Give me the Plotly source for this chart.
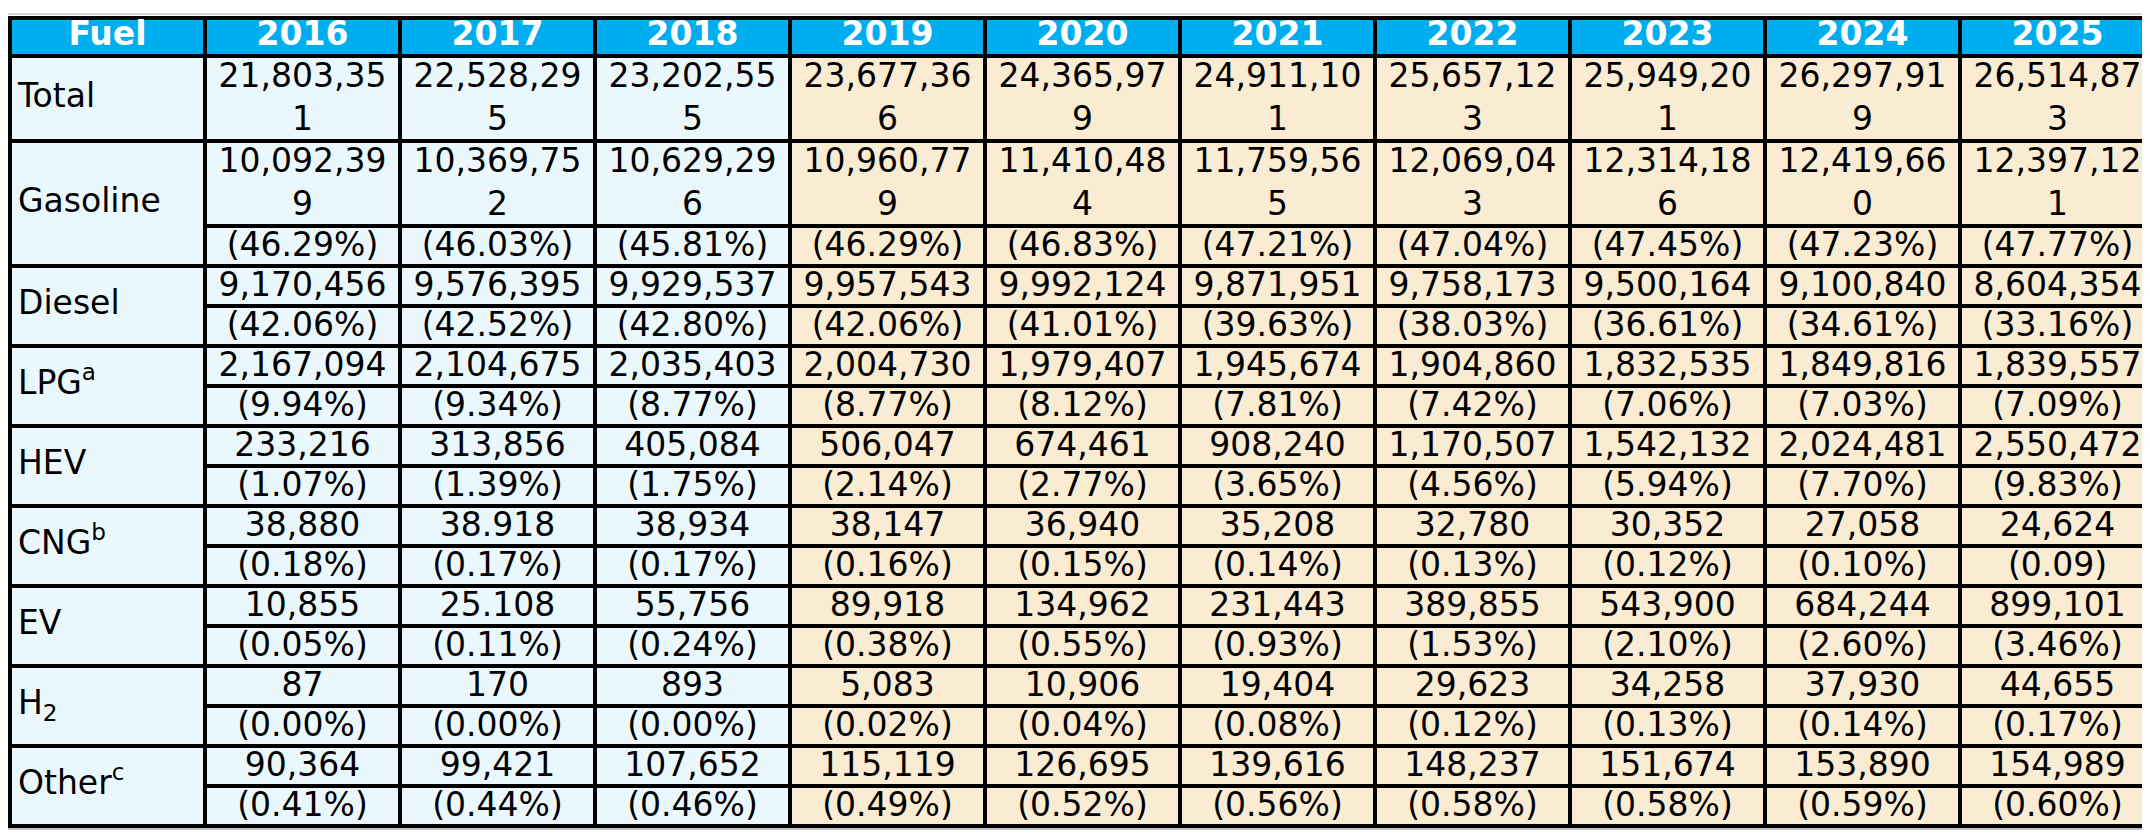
import plotly.graph_objects as go

# ---------------- data ----------------
years = ["2016", "2017", "2018", "2019", "2020", "2021", "2022", "2023", "2024", "2025"]
fuels = ["Total", "Gasoline", "Diesel", "LPG<sup>a</sup>", "HEV", "CNG<sup>b</sup>",
         "EV", "H<sub>2</sub>", "Other<sup>c</sup>"]

total_val = ["21,803,351", "22,528,295", "23,202,555", "23,677,366", "24,365,979",
             "24,911,101", "25,657,123", "25,949,201", "26,297,919", "26,514,873"]
gasoline_val = ["10,092,399", "10,369,752", "10,629,296", "10,960,779", "11,410,484",
                "11,759,565", "12,069,043", "12,314,186", "12,419,660", "12,397,121"]
gasoline_pct = ["(46.29%)", "(46.03%)", "(45.81%)", "(46.29%)", "(46.83%)",
                "(47.21%)", "(47.04%)", "(47.45%)", "(47.23%)", "(47.77%)"]
diesel_val = ["9,170,456", "9,576,395", "9,929,537", "9,957,543", "9,992,124",
              "9,871,951", "9,758,173", "9,500,164", "9,100,840", "8,604,354"]
diesel_pct = ["(42.06%)", "(42.52%)", "(42.80%)", "(42.06%)", "(41.01%)",
              "(39.63%)", "(38.03%)", "(36.61%)", "(34.61%)", "(33.16%)"]
lpg_val = ["2,167,094", "2,104,675", "2,035,403", "2,004,730", "1,979,407",
           "1,945,674", "1,904,860", "1,832,535", "1,849,816", "1,839,557"]
lpg_pct = ["(9.94%)", "(9.34%)", "(8.77%)", "(8.77%)", "(8.12%)",
           "(7.81%)", "(7.42%)", "(7.06%)", "(7.03%)", "(7.09%)"]
hev_val = ["233,216", "313,856", "405,084", "506,047", "674,461",
           "908,240", "1,170,507", "1,542,132", "2,024,481", "2,550,472"]
hev_pct = ["(1.07%)", "(1.39%)", "(1.75%)", "(2.14%)", "(2.77%)",
           "(3.65%)", "(4.56%)", "(5.94%)", "(7.70%)", "(9.83%)"]
cng_val = ["38,880", "38.918", "38,934", "38,147", "36,940",
           "35,208", "32,780", "30,352", "27,058", "24,624"]
cng_pct = ["(0.18%)", "(0.17%)", "(0.17%)", "(0.16%)", "(0.15%)",
           "(0.14%)", "(0.13%)", "(0.12%)", "(0.10%)", "(0.09)"]
ev_val = ["10,855", "25.108", "55,756", "89,918", "134,962",
          "231,443", "389,855", "543,900", "684,244", "899,101"]
ev_pct = ["(0.05%)", "(0.11%)", "(0.24%)", "(0.38%)", "(0.55%)",
          "(0.93%)", "(1.53%)", "(2.10%)", "(2.60%)", "(3.46%)"]
h2_val = ["87", "170", "893", "5,083", "10,906",
          "19,404", "29,623", "34,258", "37,930", "44,655"]
h2_pct = ["(0.00%)", "(0.00%)", "(0.00%)", "(0.02%)", "(0.04%)",
          "(0.08%)", "(0.12%)", "(0.13%)", "(0.14%)", "(0.17%)"]
other_val = ["90,364", "99,421", "107,652", "115,119", "126,695",
             "139,616", "148,237", "151,674", "153,890", "154,989"]
other_pct = ["(0.41%)", "(0.44%)", "(0.46%)", "(0.49%)", "(0.52%)",
             "(0.56%)", "(0.58%)", "(0.58%)", "(0.59%)", "(0.60%)"]

values = [total_val, gasoline_val, diesel_val, lpg_val, hev_val,
          cng_val, ev_val, h2_val, other_val]
shares = [None, gasoline_pct, diesel_pct, lpg_pct, hev_pct,
          cng_pct, ev_pct, h2_pct, other_pct]

# ---------------- layout / style ----------------
W, H = 2150, 835
X0, COLW = 2, 195
HDR_TOP, HDR_H = 10, 38
LINE_H, SUB_H = 42.5, 40
MAX_CHARS = 9
FONT = "Verdana, DejaVu Sans, sans-serif"
FS = 33
HDR_BG = "#00AEEF"
HIST_BG = "#EAF8FE"
PROJ_BG = "#FAEBD3"
BORDER = "#000000"
BW = 4


def wrap(s):
    if len(s) > MAX_CHARS:
        return s[:MAX_CHARS] + "<br>" + s[MAX_CHARS:]
    return s


ncols = len(years) + 1
xe = [X0 + COLW * i for i in range(ncols + 1)]
xc = [(xe[i] + xe[i + 1]) / 2 for i in range(ncols)]

col_bg = [HIST_BG] + [HIST_BG if int(y) < 2019 else PROJ_BG for y in years]

shapes = []
# header
hdr_bot = HDR_TOP + HDR_H
shapes.append(dict(type="rect", xref="x", yref="y", x0=xe[0], x1=xe[-1],
                   y0=HDR_TOP, y1=hdr_bot, fillcolor=HDR_BG, line_width=0, layer="below"))

tx_h, ty_h, tt_h = [], [], []
tt_h.append("<b>Fuel</b>"); tx_h.append(xc[0]); ty_h.append((HDR_TOP + hdr_bot) / 2)
for j, y in enumerate(years):
    tt_h.append("<b>%s</b>" % y); tx_h.append(xc[j + 1]); ty_h.append((HDR_TOP + hdr_bot) / 2)

lab_x, lab_y, lab_t = [], [], []
v_x, v_y, v_t = [], [], []
inner_lines = []
block_lines = [HDR_TOP, hdr_bot]
top = hdr_bot
for i, f in enumerate(fuels):
    vals = values[i]
    nlines = 2 if any(len(v) > MAX_CHARS for v in vals) else 1
    vh = LINE_H * nlines if nlines > 1 else SUB_H
    ph = SUB_H if shares[i] is not None else 0
    bottom = top + vh + ph
    # backgrounds
    for c in range(ncols):
        shapes.append(dict(type="rect", xref="x", yref="y", x0=xe[c], x1=xe[c + 1],
                           y0=top, y1=bottom, fillcolor=col_bg[c], line_width=0, layer="below"))
    lab_x.append(xe[0] + 8); lab_y.append((top + bottom) / 2); lab_t.append(f)
    for j in range(len(years)):
        v_x.append(xc[j + 1]); v_y.append(top + vh / 2 + 1.5); v_t.append(wrap(vals[j]))
        if shares[i] is not None:
            v_x.append(xc[j + 1]); v_y.append(top + vh + ph / 2 + 1.5); v_t.append(shares[i][j])
    if shares[i] is not None:
        inner_lines.append(top + vh)
    block_lines.append(bottom)
    top = bottom

# thin grey frame lines
shapes.append(dict(type="line", xref="x", yref="y", x0=0, x1=W, y0=HDR_TOP - 4, y1=HDR_TOP - 4,
                   line=dict(color="#C8C8C8", width=1.5), layer="below"))
shapes.append(dict(type="line", xref="x", yref="y", x0=0, x1=xe[-1], y0=top + 3, y1=top + 3,
                   line=dict(color="#B0B0B0", width=1.5), layer="below"))

# horizontal borders
for yb in block_lines:
    shapes.append(dict(type="line", xref="x", yref="y", x0=xe[0] - BW / 2, x1=xe[-1] + BW / 2,
                       y0=yb, y1=yb, line=dict(color=BORDER, width=BW), layer="below"))
for yb in inner_lines:
    shapes.append(dict(type="line", xref="x", yref="y", x0=xe[1], x1=xe[-1],
                       y0=yb, y1=yb, line=dict(color=BORDER, width=BW), layer="below"))
# vertical borders
for xb in xe:
    shapes.append(dict(type="line", xref="x", yref="y", x0=xb, x1=xb,
                       y0=HDR_TOP, y1=top, line=dict(color=BORDER, width=BW), layer="below"))

fig = go.Figure()
fig.add_trace(go.Scatter(x=tx_h, y=ty_h, text=tt_h, mode="text", textposition="middle center",
                         textfont=dict(family=FONT, size=FS, color="white"),
                         hoverinfo="skip", cliponaxis=False, showlegend=False))
fig.add_trace(go.Scatter(x=lab_x, y=lab_y, text=lab_t, mode="text", textposition="middle right",
                         textfont=dict(family=FONT, size=FS, color="black"),
                         hoverinfo="skip", cliponaxis=False, showlegend=False))
fig.add_trace(go.Scatter(x=v_x, y=v_y, text=v_t, mode="text", textposition="middle center",
                         textfont=dict(family=FONT, size=FS, color="black"),
                         hoverinfo="skip", cliponaxis=False, showlegend=False))

fig.update_layout(
    width=W, height=H,
    margin=dict(l=0, r=0, t=0, b=0),
    paper_bgcolor="white", plot_bgcolor="white",
    xaxis=dict(range=[0, W], visible=False, fixedrange=True),
    yaxis=dict(range=[H, 0], visible=False, fixedrange=True),
    shapes=shapes,
    showlegend=False,
)

fig.write_html("out.html")
